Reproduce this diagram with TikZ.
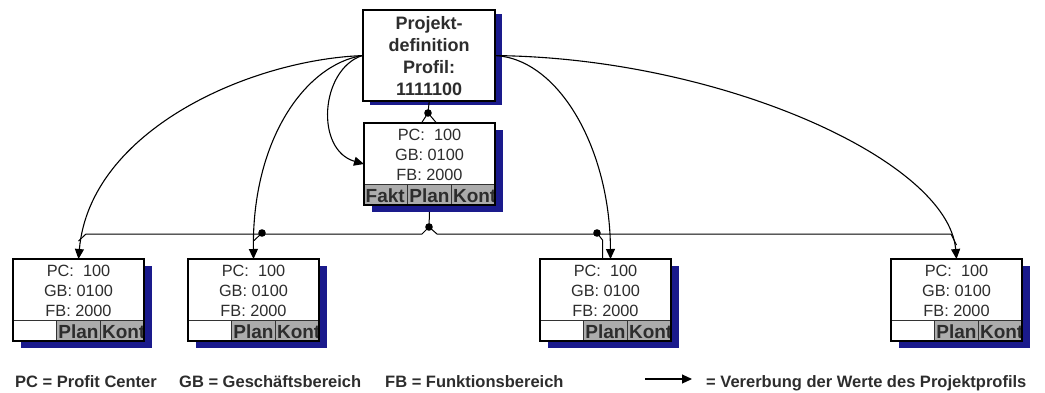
\documentclass[tikz,border=0pt]{standalone}
\usepackage{fontspec}
\setmainfont{Liberation Sans}
\usetikzlibrary{arrows.meta}
\definecolor{shadowblue}{RGB}{26,26,140}
\definecolor{cellgray}{RGB}{172,172,172}
\definecolor{txt}{RGB}{45,45,45}
\tikzset{
  boxfill/.style={fill=white, inner sep=0pt, outer sep=0pt, minimum width=131pt, minimum height=82pt},
  boxline/.style={draw=black, line width=2pt},
  cellline/.style={draw=black!80, line width=0.8pt},
  txtline/.style={inner sep=0pt, text=txt, font=\fontsize{16.3}{19}\selectfont},
  celltext/.style={inner sep=0pt, anchor=base west, text=txt, font=\fontsize{19}{19}\selectfont\bfseries},
  topbox/.style={fill=white, draw=black, line width=2.2pt, inner sep=0pt, minimum width=132pt, minimum height=91pt, align=center, text=txt, font=\fontsize{18}{22}\selectfont\bfseries},
  arr/.style={line width=1.1pt, -{Triangle[length=10pt,width=9pt]}},
  bus/.style={line width=1pt},
  legend/.style={inner sep=0pt, anchor=base west, text=txt, font=\fontsize{16.5}{18}\selectfont\bfseries},
  dotst/.style={fill=black}
}
\newcommand{\mkbox}[5]{%
  \fill[shadowblue] (#2+8,#3+7) rectangle (#2+139,#3+89);
  \node[boxfill, anchor=north west] (#1) at (#2,#3) {};
  \node[txtline] at (#2+65.5,#3+12) {PC:\ \ 100};
  \node[txtline] at (#2+65.5,#3+32) {GB: 0100};
  \node[txtline] at (#2+65.5,#3+52) {FB: 2000};
  \foreach \ci/\tx/\cf in {0/#5/#4, 1/Plan/cellgray, 2/Kont/cellgray} {
    \begin{scope}
      \fill[\cf] (#2+\ci*43.667,#3+61) rectangle (#2+\ci*43.667+43.667,#3+82);
      \clip (#2+\ci*43.667,#3+61) rectangle (#2+\ci*43.667+43.667,#3+82);
      \node[celltext] at (#2+\ci*43.667+1.5,#3+79.5) {\tx};
    \end{scope}
    \draw[cellline] (#2+\ci*43.667,#3+61) rectangle (#2+\ci*43.667+43.667,#3+82);
  }
  \draw[boxline] (#1.north west) rectangle (#1.south east);
}
\begin{document}
\begin{tikzpicture}[x=1pt,y=-1pt]
\useasboundingbox (0,0) rectangle (1045,392);
% top box
\fill[shadowblue] (370,14) rectangle (502,105);
\node[topbox, anchor=north west] (proj) at (362,9) {Projekt-\\definition\\Profil:\\1111100};
% boxes
\mkbox{mid}{364}{123}{cellgray}{Fakt}
\mkbox{b1}{13}{259}{white}{}
\mkbox{b2}{188}{259}{white}{}
\mkbox{b3}{540}{259}{white}{}
\mkbox{b4}{891}{259}{white}{}
% hierarchy
\coordinate (j0) at (428,113);
\coordinate (j1) at (429,227);
\coordinate (hL) at (86,234);
\coordinate (hR) at (951,234);
\coordinate (hop1) at (422,234);
\coordinate (hop2) at (437,234);
\coordinate (d2) at (262,233);
\coordinate (d3) at (597,233);
\draw[bus] (proj.south) -- (j0);
\draw[bus] (j0) -- ([xshift=-8pt]mid.north);
\draw[bus] (j0) -- ([xshift=7pt]mid.north);
\draw[bus] ([yshift=-7pt]mid.south) -- (j1);
\draw[bus] (hL) -- (hop1) -- (j1) -- (hop2) -- (hR);
\draw[bus] (hL) -- ([yshift=18pt]b1.north);
\draw[bus] (hR) -- ([yshift=14pt]b4.north);
\draw[bus] (d2) -- ([yshift=18pt]b2.north);
\draw[bus] (d3) -- ([xshift=-3pt,yshift=19pt]b3.north) -- ([xshift=-3pt]b3.north);
\fill[dotst] (j0) circle (3.8pt);
\fill[dotst] (j1) circle (3.8pt);
\fill[dotst] (d2) circle (3.8pt);
\fill[dotst] (d3) circle (3.8pt);
% inheritance arrows
\draw[arr] (proj.west) .. controls (250,60) and (90,130) .. (b1.north);
\draw[arr] (proj.west) .. controls (305,65) and (252,140) .. (b2.north);
\draw[arr] (proj.west) .. controls (320,70) and (315,150) .. (mid.west);
\draw[arr] (proj.east) .. controls (560,60) and (610,150) .. ([xshift=5pt]b3.north);
\draw[arr] (proj.east) .. controls (720,58) and (948,160) .. (b4.north);
% legend
\node[legend] (l1) at (15,387) {PC = Profit Center};
\node[legend] (l2) at (179,387) {GB = Geschäftsbereich};
\node[legend] (l3) at (385,387) {FB = Funktionsbereich};
\coordinate (la) at (645,379);
\coordinate (lb) at (692,379);
\draw[arr] (la) -- (lb);
\node[legend] (l4) at (706,387) {= Vererbung der Werte des Projektprofils};
\end{tikzpicture}
\end{document}
